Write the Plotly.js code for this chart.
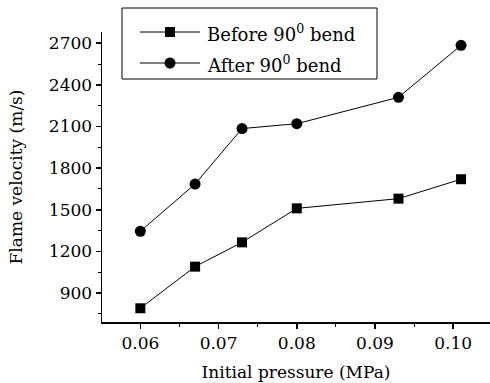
<!DOCTYPE html>
<html>
<head>
<meta charset="utf-8">
<script src="https://cdn.plot.ly/plotly-3.0.1.min.js"></script>
<style>html,body{margin:0;padding:0;background:#fff;}#chart{width:490px;height:383px;}</style>
</head>
<body>
<div id="chart"></div>
<script>
var pressure = [0.060, 0.067, 0.073, 0.080, 0.093, 0.101];
var beforeBend = [790, 1090, 1265, 1510, 1580, 1720];
var afterBend = [1345, 1685, 2085, 2120, 2310, 2685];
var seriesNames = ["Before 90<sup>0</sup> bend", "After 90<sup>0</sup> bend"];
var xTickVals = [0.06, 0.07, 0.08, 0.09, 0.10];
var xTickText = ["0.06", "0.07", "0.08", "0.09", "0.10"];
var yTickVals = [900, 1200, 1500, 1800, 2100, 2400, 2700];

var font = "DejaVu Serif";
var W = 490, H = 383, mL = 102, mR = 0, mT = 32, mB = 61;
var pw = W - mL - mR, ph = H - mT - mB;
function px(x) { return (x - mL) / pw; }
function py(y) { return (H - mB - y) / ph; }

var traces = [
  {x: pressure, y: beforeBend, name: seriesNames[0], mode: "lines+markers", type: "scatter",
   line: {color: "#000", width: 1}, marker: {symbol: "square", size: 10, color: "#000"}},
  {x: pressure, y: afterBend, name: seriesNames[1], mode: "lines+markers", type: "scatter",
   line: {color: "#000", width: 1}, marker: {symbol: "circle", size: 11, color: "#000"}}
];

// legend drawn as layout decoration (box, sample lines, symbols, labels)
var rows = [32, 63];
var shapes = [
  {type: "rect", xref: "paper", yref: "paper", x0: px(122), x1: px(377), y0: py(79), y1: py(8),
   line: {color: "#000", width: 1}, fillcolor: "#fff", layer: "above"}
];
var annotations = [];
rows.forEach(function (ry, i) {
  shapes.push({type: "line", xref: "paper", yref: "paper", x0: px(140), x1: px(200), y0: py(ry), y1: py(ry),
               line: {color: "#000", width: 1}, layer: "above"});
  if (i === 0) {
    shapes.push({type: "rect", xref: "paper", yref: "paper", x0: px(165), x1: px(175), y0: py(ry + 5), y1: py(ry - 5),
                 line: {width: 0}, fillcolor: "#000", layer: "above"});
  } else {
    shapes.push({type: "circle", xref: "paper", yref: "paper", x0: px(164.5), x1: px(175.5), y0: py(ry + 5.5), y1: py(ry - 5.5),
                 line: {width: 0}, fillcolor: "#000", layer: "above"});
  }
  annotations.push({xref: "paper", yref: "paper", x: px(205), y: py(ry + 1), xanchor: "left", yanchor: "middle",
                    text: seriesNames[i], showarrow: false, font: {family: font, size: 18, color: "#000"}});
});

var layout = {
  width: W, height: H,
  margin: {l: mL, r: mR, t: mT, b: mB},
  paper_bgcolor: "#fff", plot_bgcolor: "#fff",
  font: {family: font, size: 17, color: "#000"},
  showlegend: false,
  shapes: shapes,
  annotations: annotations,
  xaxis: {range: [0.0551, 0.1047], tickvals: xTickVals, ticktext: xTickText, showgrid: false, zeroline: false,
          showline: true, linecolor: "#000", linewidth: 1.5, ticks: "outside", ticklen: 5, tickwidth: 1.5, tickcolor: "#000",
          minor: {dtick: 0.005, tick0: 0.055, ticks: "outside", ticklen: 3, tickwidth: 1, tickcolor: "#000", showgrid: false},
          title: {text: "Initial pressure (MPa)", font: {family: font, size: 17}, standoff: 14}},
  yaxis: {range: [691, 2781], tickvals: yTickVals, showgrid: false, zeroline: false,
          showline: true, linecolor: "#000", linewidth: 1.5, ticks: "outside", ticklen: 5, tickwidth: 1.5, tickcolor: "#000",
          minor: {dtick: 150, tick0: 750, ticks: "outside", ticklen: 3, tickwidth: 1, tickcolor: "#000", showgrid: false},
          title: {text: "Flame velocity (m/s)", font: {family: font, size: 17}, standoff: 22}}
};
Plotly.newPlot("chart", traces, layout, {displayModeBar: false, staticPlot: true});
</script>
</body>
</html>
